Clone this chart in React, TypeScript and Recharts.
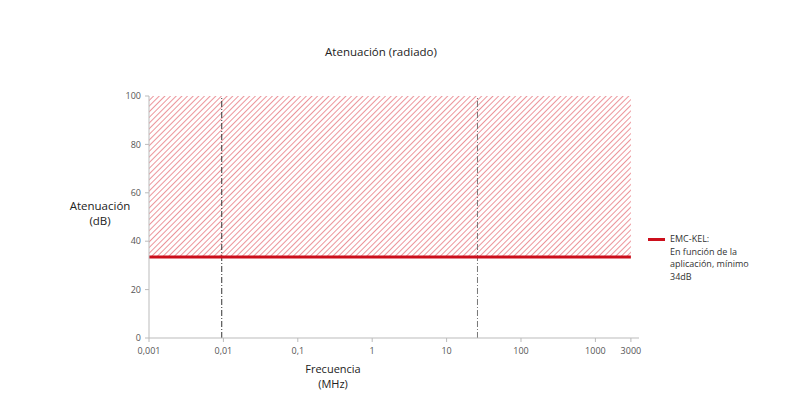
import { LineChart, Line, XAxis, YAxis, ReferenceArea, ReferenceLine } from 'recharts';

const freqTicks = [0.001, 0.01, 0.1, 1, 10, 100, 1000, 3000];
const attTicks = [0, 20, 40, 60, 80, 100];
const emcKel = [
  { f: 0.001, db: 33.5 },
  { f: 3000, db: 33.5 },
];
const markerFreqs = [0.0095, 26];

const font = '"Open Sans", sans-serif';

const fmtFreq = (v: number) => String(v).replace('.', ',');

function LegendBox() {
  return (
    <div style={{ position: 'absolute', left: 648, top: 233, display: 'flex', fontFamily: font, fontSize: 9, color: '#333', lineHeight: '12.5px' }}>
      <div style={{ width: 17, height: 3, background: '#cc0f1c', marginTop: 5, marginRight: 5 }} />
      <div>
        EMC-KEL:<br />En función de la<br />aplicación, mínimo<br />34dB
      </div>
    </div>
  );
}

export default function App() {
  return (
    <div style={{ position: 'fixed', left: 0, top: 0, width: 800, height: 400, background: '#fff', fontFamily: font }}>
      <div style={{ position: 'absolute', left: 0, width: 762, top: 44, textAlign: 'center', fontSize: 11.5, color: '#222' }}>
        Atenuación (radiado)
      </div>
      <div style={{ position: 'absolute', left: 60, width: 80, top: 198, textAlign: 'center', fontSize: 11.5, color: '#222', lineHeight: '15px' }}>
        Atenuación<br />(dB)
      </div>
      <div style={{ position: 'absolute', left: 293, width: 80, top: 361, textAlign: 'center', fontSize: 11, color: '#222', lineHeight: '15px' }}>
        Frecuencia<br />(MHz)
      </div>
      <LineChart width={800} height={400} data={emcKel} margin={{ top: 96, right: 161, bottom: 32, left: 109 }} style={{ position: 'absolute', left: 0, top: 0 }}>
        <defs>
          <pattern id="hatch" width="4" height="4" patternUnits="userSpaceOnUse" patternTransform="rotate(45)">
            <line x1="0" y1="0" x2="0" y2="4" stroke="#dc3c47" strokeWidth="1.1" />
          </pattern>
        </defs>
        <XAxis
          dataKey="f"
          type="number"
          scale="log"
          domain={[0.001, 3855]}
          ticks={freqTicks}
          tickFormatter={fmtFreq}
          allowDataOverflow
          stroke="#bbb"
          tickSize={4}
          tick={{ fill: '#555', fontSize: 9, fontFamily: font, dy: 4 }}
          height={30}
        />
        <YAxis
          type="number"
          domain={[0, 100]}
          ticks={attTicks}
          stroke="#bbb"
          tickSize={4}
          width={40}
          tick={{ fill: '#555', fontSize: 9, fontFamily: font, dx: -2 }}
        />
        <ReferenceArea x1={0.001} x2={3000} y1={33.5} y2={100} fill="url(#hatch)" fillOpacity={1} stroke="none" ifOverflow="hidden" />
        {markerFreqs.map((f, i) => (
          <ReferenceLine key={f} x={f} stroke={i === 0 ? '#333' : '#777'} strokeWidth={1} strokeDasharray="6 2 1 2" />
        ))}
        <Line dataKey="db" stroke="#cc0f1c" strokeWidth={3} dot={false} isAnimationActive={false} />
      </LineChart>
      <LegendBox />
    </div>
  );
}
